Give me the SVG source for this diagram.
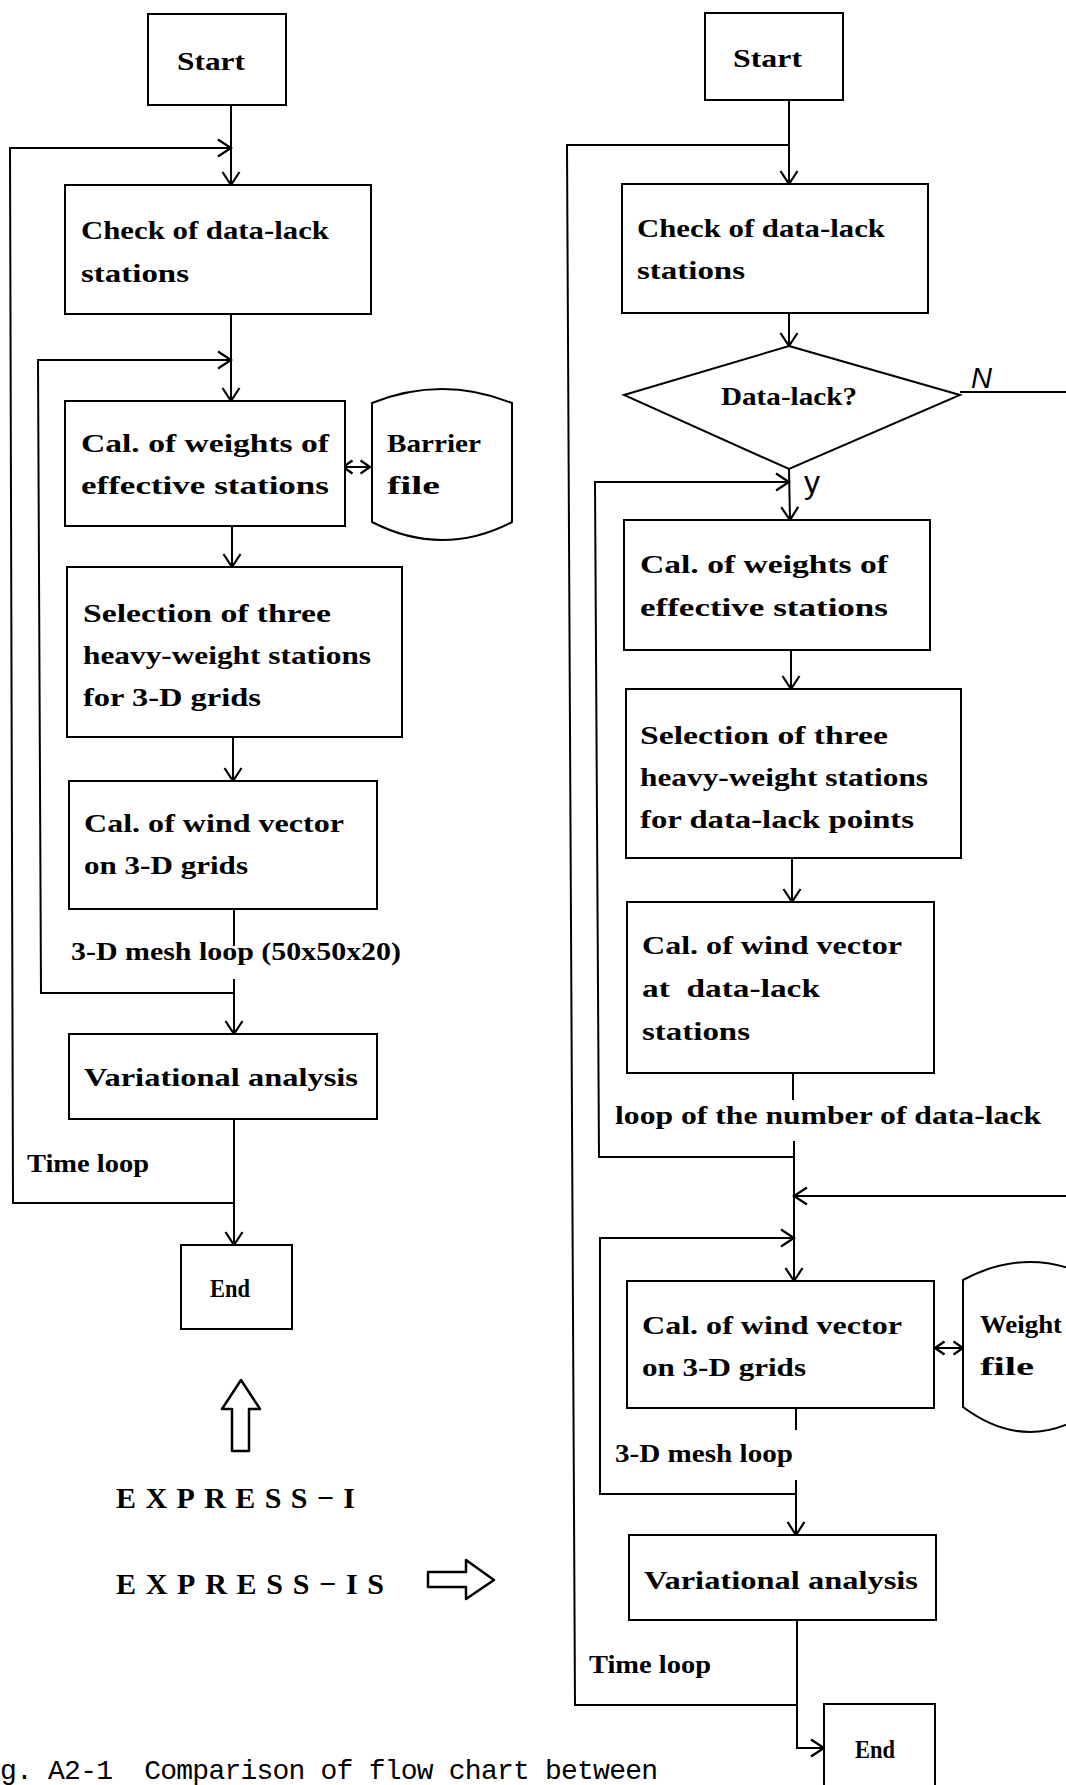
<svg xmlns="http://www.w3.org/2000/svg" width="1066" height="1785" viewBox="0 0 1066 1785">
  <defs>
    <marker id="arr" markerUnits="userSpaceOnUse" viewBox="0 0 16 20" markerWidth="16" markerHeight="20" refX="14" refY="10" orient="auto-start-reverse">
      <path d="M1,1.5 L14,10 L1,18.5" fill="none" stroke="#000" stroke-width="2.2"/>
    </marker>
    <marker id="arr-s" markerUnits="userSpaceOnUse" viewBox="0 0 12 16" markerWidth="12" markerHeight="16" refX="10.5" refY="8" orient="auto-start-reverse">
      <path d="M1,1.5 L10.5,8 L1,14.5" fill="none" stroke="#000" stroke-width="2.4"/>
    </marker>
  </defs>
  <style>
    .box { fill: #fff; stroke: #000; stroke-width: 2; }
    .ln { fill: none; stroke: #000; stroke-width: 2; }
    .ar { marker-end: url(#arr); }
    .dbl { marker-start: url(#arr-s); marker-end: url(#arr-s); }
    .t { font-family: "Liberation Serif", "Times New Roman", serif; font-weight: bold; font-size: 26px; fill: #000; }
    .hand { font-family: "Liberation Sans", Arial, sans-serif; fill: #000; }
    .big { font-family: "Liberation Serif", "Times New Roman", serif; font-weight: bold; font-size: 30px; fill: #000; }
    .cap { font-family: "Liberation Mono", "Courier New", monospace; font-size: 28px; fill: #000; }
    .hollow { fill: #fff; stroke: #000; stroke-width: 2.5; stroke-linejoin: round; }
  </style>
  <rect width="1066" height="1785" fill="#fff"/>

  <!-- connectors of both charts -->
  <g id="connectors">
    <!-- EXPRESS-I -->
    <path class="ln ar" d="M231,105 L231,185"/>
    <path class="ln ar" d="M234,1203 L13,1203 L10,148 L231,148"/>
    <path class="ln ar" d="M231,314 L231,401"/>
    <path class="ln ar" d="M234,993 L41,993 L38,360 L231,360"/>
    <path class="ln ar" d="M232,526 L232,567"/>
    <path class="ln ar" d="M233,737 L233,781"/>
    <path class="ln" d="M234,909 L234,946"/>
    <path class="ln ar" d="M234,979 L234,1034"/>
    <path class="ln ar" d="M234,1119 L234,1245"/>
    <path class="ln dbl" d="M343,467 L370,467"/>

    <!-- EXPRESS-IS -->
    <path class="ln ar" d="M789,100 L789,184"/>
    <path class="ln" d="M797,1705 L575,1705 L567,145 L789,145"/>
    <path class="ln ar" d="M789,313 L789,346"/>
    <path class="ln ar" d="M789,469 L790,520"/>
    <path class="ln" d="M960,392 L1066,392"/>
    <path class="ln ar" d="M794,1157 L599,1157 L595,482 L789,482"/>
    <path class="ln ar" d="M791,650 L791,689"/>
    <path class="ln ar" d="M792,858 L792,902"/>
    <path class="ln" d="M793,1073 L793,1100"/>
    <path class="ln ar" d="M794,1141 L794,1281"/>
    <path class="ln ar" d="M1066,1196 L794,1196"/>
    <path class="ln ar" d="M796,1494 L600,1494 L600,1238 L794,1238"/>
    <path class="ln" d="M796,1408 L796,1430"/>
    <path class="ln ar" d="M796,1480 L796,1535"/>
    <path class="ln ar" d="M797,1620 L797,1748 L824,1748"/>
    <path class="ln dbl" d="M935,1348 L963,1348"/>

    <text class="hand" x="971" y="388" font-size="29" font-style="italic">N</text>
    <text class="hand" x="804" y="493" font-size="32">y</text>
  </g>

  <!-- EXPRESS-I nodes -->
  <g id="l-start">
    <rect class="box" x="148" y="14" width="138" height="91"/>
    <text class="t" x="177" y="70" textLength="68" lengthAdjust="spacingAndGlyphs">Start</text>
  </g>
  <g id="l-check">
    <rect class="box" x="65" y="185" width="306" height="129"/>
    <text class="t" x="81" y="239" textLength="248" lengthAdjust="spacingAndGlyphs">Check of data-lack</text>
    <text class="t" x="81" y="282" textLength="108" lengthAdjust="spacingAndGlyphs">stations</text>
  </g>
  <g id="l-weights">
    <rect class="box" x="65" y="401" width="280" height="125"/>
    <text class="t" x="81" y="452" textLength="248" lengthAdjust="spacingAndGlyphs">Cal. of weights of</text>
    <text class="t" x="81" y="494" textLength="248" lengthAdjust="spacingAndGlyphs">effective stations</text>
  </g>
  <g id="l-barrier">
    <path class="box" d="M372,522 L372,403 Q442,375 512,403 L512,522 Q442,558 372,522 Z"/>
    <text class="t" x="387" y="452" textLength="94" lengthAdjust="spacingAndGlyphs">Barrier</text>
    <text class="t" x="387" y="494" textLength="53" lengthAdjust="spacingAndGlyphs">file</text>
  </g>
  <g id="l-select">
    <rect class="box" x="67" y="567" width="335" height="170"/>
    <text class="t" x="83" y="622" textLength="248" lengthAdjust="spacingAndGlyphs">Selection of three</text>
    <text class="t" x="83" y="664" textLength="288" lengthAdjust="spacingAndGlyphs">heavy-weight stations</text>
    <text class="t" x="83" y="706" textLength="178" lengthAdjust="spacingAndGlyphs">for 3-D grids</text>
  </g>
  <g id="l-wind">
    <rect class="box" x="69" y="781" width="308" height="128"/>
    <text class="t" x="84" y="832" textLength="260" lengthAdjust="spacingAndGlyphs">Cal. of wind vector</text>
    <text class="t" x="84" y="874" textLength="164" lengthAdjust="spacingAndGlyphs">on 3-D grids</text>
  </g>
  <g id="l-mesh-label">
    <text class="t" x="71" y="960" textLength="330" lengthAdjust="spacingAndGlyphs">3-D mesh loop (50x50x20)</text>
  </g>
  <g id="l-var">
    <rect class="box" x="69" y="1034" width="308" height="85"/>
    <text class="t" x="84" y="1086" textLength="274" lengthAdjust="spacingAndGlyphs">Variational analysis</text>
  </g>
  <g id="l-time-label">
    <text class="t" x="27" y="1172" textLength="122" lengthAdjust="spacingAndGlyphs">Time loop</text>
  </g>
  <g id="l-end">
    <rect class="box" x="181" y="1245" width="111" height="84"/>
    <text class="t" x="210" y="1297" textLength="40" lengthAdjust="spacingAndGlyphs">End</text>
  </g>

  <!-- legend -->
  <g id="legend">
    <polygon class="hollow" points="232,1451 249,1451 249,1409 260,1409 241,1380 222,1409 232,1409"/>
    <text class="big" x="116" y="1508" textLength="239" lengthAdjust="spacing">EXPRESS−I</text>
    <text class="big" x="116" y="1594" textLength="268" lengthAdjust="spacing">EXPRESS−IS</text>
    <polygon class="hollow" points="428,1572 466,1572 466,1560 494,1580 466,1599 466,1587 428,1587"/>
  </g>
  <g id="caption">
    <text class="cap" x="0" y="1779" textLength="658" lengthAdjust="spacing" xml:space="preserve">g. A2-1  Comparison of flow chart between</text>
  </g>

  <!-- EXPRESS-IS nodes -->
  <g id="r-start">
    <rect class="box" x="705" y="13" width="138" height="87"/>
    <text class="t" x="733" y="67" textLength="69" lengthAdjust="spacingAndGlyphs">Start</text>
  </g>
  <g id="r-check">
    <rect class="box" x="622" y="184" width="306" height="129"/>
    <text class="t" x="637" y="237" textLength="248" lengthAdjust="spacingAndGlyphs">Check of data-lack</text>
    <text class="t" x="637" y="279" textLength="108" lengthAdjust="spacingAndGlyphs">stations</text>
  </g>
  <g id="r-decision">
    <polygon class="box" points="789,346 960,395 789,469 624,395" stroke-width="2.5"/>
    <text class="t" x="721" y="405" textLength="136" lengthAdjust="spacingAndGlyphs">Data-lack?</text>
  </g>
  <g id="r-weights">
    <rect class="box" x="624" y="520" width="306" height="130"/>
    <text class="t" x="640" y="573" textLength="248" lengthAdjust="spacingAndGlyphs">Cal. of weights of</text>
    <text class="t" x="640" y="616" textLength="248" lengthAdjust="spacingAndGlyphs">effective stations</text>
  </g>
  <g id="r-select">
    <rect class="box" x="626" y="689" width="335" height="169"/>
    <text class="t" x="640" y="744" textLength="248" lengthAdjust="spacingAndGlyphs">Selection of three</text>
    <text class="t" x="640" y="786" textLength="288" lengthAdjust="spacingAndGlyphs">heavy-weight stations</text>
    <text class="t" x="640" y="828" textLength="274" lengthAdjust="spacingAndGlyphs">for data-lack points</text>
  </g>
  <g id="r-wind-lack">
    <rect class="box" x="627" y="902" width="307" height="171"/>
    <text class="t" x="642" y="954" textLength="260" lengthAdjust="spacingAndGlyphs">Cal. of wind vector</text>
    <text class="t" x="642" y="997" textLength="178" lengthAdjust="spacingAndGlyphs" xml:space="preserve">at  data-lack</text>
    <text class="t" x="642" y="1040" textLength="108" lengthAdjust="spacingAndGlyphs">stations</text>
  </g>
  <g id="r-lack-loop-label">
    <text class="t" x="615" y="1124" textLength="426" lengthAdjust="spacingAndGlyphs">loop of the number of data-lack</text>
  </g>
  <g id="r-wind-grid">
    <rect class="box" x="627" y="1281" width="307" height="127"/>
    <text class="t" x="642" y="1334" textLength="260" lengthAdjust="spacingAndGlyphs">Cal. of wind vector</text>
    <text class="t" x="642" y="1376" textLength="164" lengthAdjust="spacingAndGlyphs">on 3-D grids</text>
  </g>
  <g id="r-weightfile">
    <path class="box" d="M963,1407 L963,1280 Q1030,1244 1097,1280 L1097,1407 Q1030,1457 963,1407 Z"/>
    <text class="t" x="980" y="1333" textLength="82" lengthAdjust="spacingAndGlyphs">Weight</text>
    <text class="t" x="980" y="1375" textLength="54" lengthAdjust="spacingAndGlyphs">file</text>
  </g>
  <g id="r-mesh-label">
    <text class="t" x="615" y="1462" textLength="178" lengthAdjust="spacingAndGlyphs">3-D mesh loop</text>
  </g>
  <g id="r-var">
    <rect class="box" x="629" y="1535" width="307" height="85"/>
    <text class="t" x="644" y="1589" textLength="274" lengthAdjust="spacingAndGlyphs">Variational analysis</text>
  </g>
  <g id="r-time-label">
    <text class="t" x="589" y="1673" textLength="122" lengthAdjust="spacingAndGlyphs">Time loop</text>
  </g>
  <g id="r-end">
    <rect class="box" x="824" y="1704" width="111" height="92"/>
    <text class="t" x="855" y="1758" textLength="40" lengthAdjust="spacingAndGlyphs">End</text>
  </g>
</svg>
